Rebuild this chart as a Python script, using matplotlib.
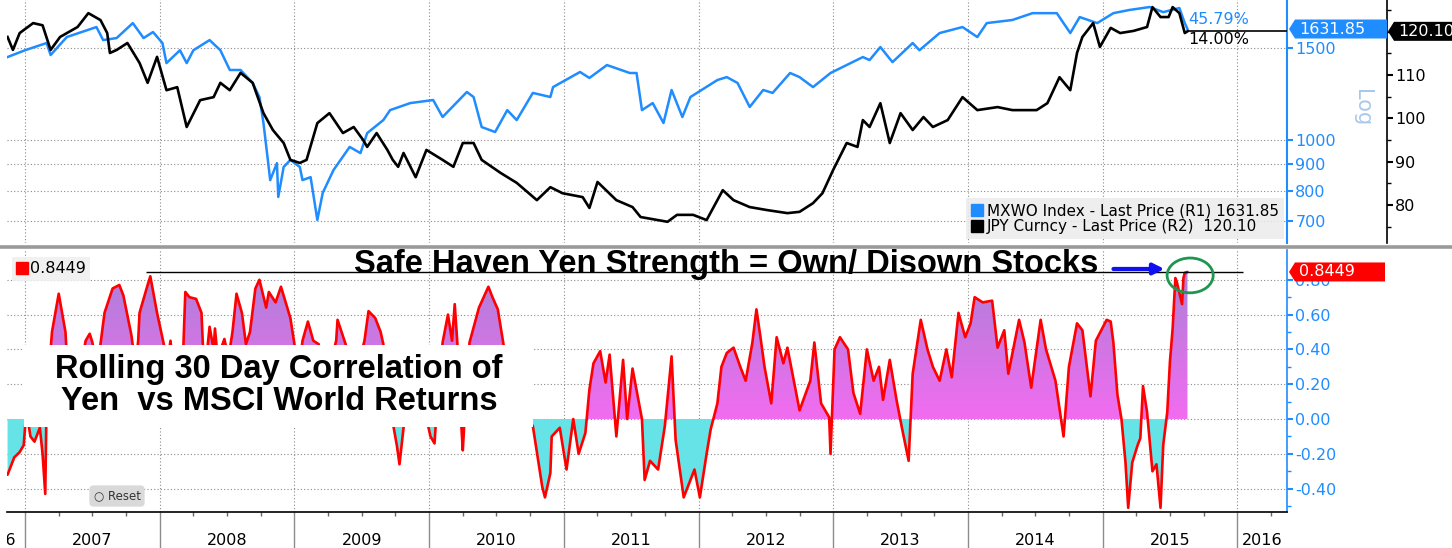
import numpy as np
import matplotlib.pyplot as plt
from matplotlib.lines import Line2D
from matplotlib.patches import Rectangle, Ellipse, Polygon
from matplotlib.path import Path
from matplotlib.colors import LinearSegmentedColormap
from matplotlib.transforms import Bbox, TransformedBbox, blended_transform_factory
from matplotlib.ticker import FixedLocator, NullLocator, NullFormatter, FixedFormatter

plt.rcParams['font.family'] = ['DejaVu Sans']

# ---- data (dates as decimal years) ----
t_mxwo = [2006.87, 2007.00, 2007.16, 2007.19, 2007.31, 2007.53, 2007.58, 2007.68, 2007.80, 2007.88,
          2007.95, 2008.02, 2008.05, 2008.15, 2008.20, 2008.25, 2008.37, 2008.45, 2008.52, 2008.60,
          2008.69, 2008.74, 2008.77, 2008.80, 2008.82, 2008.87, 2008.88, 2008.92, 2008.97, 2009.04,
          2009.06, 2009.12, 2009.17, 2009.21, 2009.29, 2009.41, 2009.49, 2009.54, 2009.66, 2009.71,
          2009.86, 2010.03, 2010.10, 2010.28, 2010.33, 2010.39, 2010.49, 2010.58, 2010.65, 2010.77,
          2010.90, 2010.92, 2011.12, 2011.19, 2011.32, 2011.49, 2011.54, 2011.58, 2011.66, 2011.74,
          2011.80, 2011.88, 2011.94, 2012.14, 2012.21, 2012.29, 2012.38, 2012.48, 2012.55, 2012.68,
          2012.75, 2012.85, 2012.98, 2013.22, 2013.27, 2013.35, 2013.44, 2013.59, 2013.64, 2013.79,
          2013.96, 2014.07, 2014.14, 2014.33, 2014.48, 2014.66, 2014.76, 2014.83, 2014.96, 2015.08,
          2015.20, 2015.35, 2015.45, 2015.57, 2015.61, 2015.63]
mxwo = [1442, 1486, 1534, 1455, 1575, 1646, 1554, 1568, 1675, 1568,
        1610, 1534, 1404, 1486, 1404, 1486, 1554, 1486, 1362, 1362,
        1286, 1209, 1078, 928, 838, 903, 778, 888, 916, 888,
        838, 849, 703, 792, 876, 970, 944, 1031, 1092, 1141,
        1177, 1193, 1107, 1236, 1209, 1059, 1036, 1141, 1092, 1231,
        1209, 1263, 1350, 1315, 1392, 1344, 1344, 1141, 1177, 1078,
        1247, 1107, 1209, 1303, 1320, 1286, 1157, 1247, 1231, 1344,
        1320, 1263, 1344, 1442, 1423, 1507, 1410, 1534, 1486, 1603,
        1646, 1575, 1675, 1698, 1750, 1750, 1603, 1720, 1675, 1750,
        1775, 1798, 1758, 1790, 1675, 1631.85]

t_jpy = [2006.87, 2006.91, 2006.96, 2007.06, 2007.13, 2007.19, 2007.26, 2007.39, 2007.47, 2007.56,
         2007.61, 2007.63, 2007.68, 2007.76, 2007.85, 2007.91, 2007.98, 2008.05, 2008.13, 2008.20,
         2008.30, 2008.40, 2008.45, 2008.52, 2008.60, 2008.69, 2008.77, 2008.84, 2008.92, 2008.97,
         2009.04, 2009.09, 2009.17, 2009.26, 2009.36, 2009.44, 2009.51, 2009.54, 2009.61, 2009.69,
         2009.73, 2009.77, 2009.81, 2009.90, 2009.98, 2010.10, 2010.18, 2010.25, 2010.33, 2010.39,
         2010.53, 2010.65, 2010.80, 2010.90, 2010.99, 2011.14, 2011.19, 2011.25, 2011.39, 2011.51,
         2011.57, 2011.77, 2011.84, 2011.96, 2012.06, 2012.18, 2012.26, 2012.38, 2012.51, 2012.66,
         2012.75, 2012.85, 2012.92, 2013.00, 2013.10, 2013.18, 2013.22, 2013.27, 2013.35, 2013.42,
         2013.50, 2013.59, 2013.67, 2013.74, 2013.85, 2013.96, 2014.07, 2014.22, 2014.33, 2014.51,
         2014.59, 2014.68, 2014.76, 2014.81, 2014.85, 2014.93, 2014.98, 2015.06, 2015.13, 2015.23,
         2015.33, 2015.37, 2015.43, 2015.49, 2015.52, 2015.57, 2015.61, 2015.63]
jpy = [118.8, 115.8, 119.7, 122.0, 121.5, 115.8, 118.8, 121.1, 124.3, 122.7,
       119.7, 115.1, 115.8, 117.4, 112.8, 108.2, 114.2, 106.5, 107.2, 98.0,
       104.2, 104.9, 108.2, 106.5, 110.5, 108.2, 101.2, 97.3, 94.3, 90.4,
       89.7, 90.4, 98.9, 101.2, 96.6, 98.0, 95.0, 93.4, 96.6, 92.7,
       90.4, 88.8, 92.0, 86.4, 92.7, 90.4, 88.8, 94.3, 94.3, 90.4,
       87.4, 85.1, 81.1, 84.1, 82.7, 81.8, 79.3, 85.3, 81.1, 79.5,
       77.2, 76.1, 77.7, 77.7, 76.5, 83.4, 81.1, 79.5, 78.8, 78.1,
       78.4, 80.4, 82.7, 88.1, 94.3, 93.4, 99.6, 98.0, 103.5, 94.3,
       101.2, 97.3, 100.3, 98.0, 99.6, 104.9, 101.9, 102.6, 101.9, 101.9,
       103.5, 109.5, 106.5, 115.1, 118.8, 122.0, 116.5, 120.9, 119.7, 120.2,
       121.1, 125.7, 123.4, 123.4, 125.7, 124.3, 119.7, 120.10]

t_corr = [2006.87, 2006.92, 2006.96, 2006.99, 2007.01, 2007.04, 2007.07, 2007.11, 2007.13, 2007.15,
          2007.16, 2007.20, 2007.25, 2007.30, 2007.33, 2007.39, 2007.45, 2007.48, 2007.50, 2007.53,
          2007.56, 2007.59, 2007.65, 2007.70, 2007.73, 2007.79, 2007.82, 2007.84, 2007.85, 2007.91,
          2007.93, 2007.98, 2008.03, 2008.05, 2008.08, 2008.11, 2008.17, 2008.19, 2008.22, 2008.27,
          2008.31, 2008.32, 2008.34, 2008.37, 2008.40, 2008.41, 2008.43, 2008.48, 2008.51, 2008.54,
          2008.57, 2008.61, 2008.64, 2008.67, 2008.71, 2008.74, 2008.79, 2008.81, 2008.86, 2008.90,
          2008.97, 2009.00, 2009.03, 2009.06, 2009.10, 2009.14, 2009.18, 2009.20, 2009.26, 2009.31,
          2009.32, 2009.35, 2009.38, 2009.43, 2009.47, 2009.52, 2009.55, 2009.60, 2009.64, 2009.66,
          2009.69, 2009.73, 2009.76, 2009.78, 2009.81, 2009.86, 2009.93, 2009.99, 2010.01, 2010.04,
          2010.06, 2010.10, 2010.14, 2010.17, 2010.19, 2010.21, 2010.24, 2010.25, 2010.27, 2010.30,
          2010.37, 2010.44, 2010.47, 2010.51, 2010.55, 2010.60, 2010.67, 2010.73, 2010.77, 2010.84,
          2010.86, 2010.90, 2010.91, 2010.97, 2011.02, 2011.07, 2011.11, 2011.16, 2011.19, 2011.22,
          2011.27, 2011.31, 2011.34, 2011.39, 2011.44, 2011.47, 2011.51, 2011.58, 2011.60, 2011.64,
          2011.70, 2011.75, 2011.80, 2011.83, 2011.89, 2011.97, 2012.01, 2012.06, 2012.09, 2012.14,
          2012.17, 2012.21, 2012.26, 2012.31, 2012.35, 2012.40, 2012.43, 2012.46, 2012.49, 2012.54,
          2012.58, 2012.63, 2012.66, 2012.71, 2012.75, 2012.83, 2012.86, 2012.91, 2012.97, 2012.98,
          2013.01, 2013.05, 2013.11, 2013.15, 2013.20, 2013.25, 2013.30, 2013.34, 2013.37, 2013.42,
          2013.47, 2013.51, 2013.56, 2013.59, 2013.65, 2013.70, 2013.74, 2013.79, 2013.84, 2013.88,
          2013.93, 2013.98, 2014.02, 2014.05, 2014.11, 2014.18, 2014.22, 2014.27, 2014.30, 2014.38,
          2014.42, 2014.47, 2014.54, 2014.58, 2014.65, 2014.71, 2014.75, 2014.81, 2014.85, 2014.91,
          2014.95, 2015.03, 2015.06, 2015.08, 2015.11, 2015.14, 2015.17, 2015.19, 2015.22, 2015.26,
          2015.28, 2015.30, 2015.33, 2015.37, 2015.40, 2015.43, 2015.45, 2015.48, 2015.50, 2015.52,
          2015.54, 2015.55, 2015.59, 2015.60, 2015.61, 2015.63]
corr = [-0.32, -0.22, -0.19, -0.15, 0.05, -0.10, -0.13, -0.05, -0.20, -0.43,
        0.10, 0.50, 0.72, 0.50, 0.10, 0.20, 0.45, 0.49, 0.44, 0.30,
        0.43, 0.61, 0.75, 0.77, 0.71, 0.48, 0.30, 0.45, 0.61, 0.77,
        0.82, 0.61, 0.43, 0.30, 0.45, 0.20, 0.30, 0.73, 0.70, 0.69,
        0.61, 0.43, 0.30, 0.53, 0.40, 0.52, 0.35, 0.46, 0.35, 0.50,
        0.72, 0.61, 0.43, 0.50, 0.75, 0.80, 0.64, 0.73, 0.67, 0.76,
        0.58, 0.43, 0.25, 0.45, 0.56, 0.45, 0.43, 0.20, 0.30, 0.45,
        0.57, 0.50, 0.43, 0.20, 0.30, 0.45, 0.62, 0.58, 0.50, 0.43,
        0.20, -0.02, -0.15, -0.26, -0.05, 0.20, 0.10, -0.03, -0.10, -0.14,
        0.10, 0.44, 0.60, 0.45, 0.66, 0.43, -0.05, -0.18, 0.10, 0.44,
        0.64, 0.76, 0.70, 0.63, 0.44, 0.20, 0.10, 0.00, -0.04, -0.39,
        -0.45, -0.31, -0.10, -0.05, -0.29, 0.00, -0.20, -0.08, 0.17, 0.32,
        0.39, 0.21, 0.37, -0.10, 0.34, 0.00, 0.29, 0.00, -0.35, -0.24,
        -0.29, -0.04, 0.36, -0.12, -0.45, -0.29, -0.45, -0.20, -0.06, 0.09,
        0.30, 0.38, 0.41, 0.30, 0.22, 0.44, 0.63, 0.47, 0.30, 0.09,
        0.47, 0.32, 0.41, 0.21, 0.05, 0.22, 0.44, 0.09, 0.01, -0.20,
        0.40, 0.47, 0.40, 0.15, 0.03, 0.40, 0.22, 0.30, 0.11, 0.34,
        0.11, -0.05, -0.24, 0.26, 0.57, 0.40, 0.30, 0.22, 0.40, 0.24,
        0.61, 0.47, 0.55, 0.70, 0.67, 0.68, 0.41, 0.51, 0.26, 0.57,
        0.44, 0.18, 0.57, 0.40, 0.22, -0.10, 0.30, 0.55, 0.51, 0.13,
        0.45, 0.57, 0.56, 0.44, 0.14, 0.00, -0.25, -0.51, -0.25, -0.15,
        -0.11, 0.19, 0.04, -0.30, -0.26, -0.51, -0.15, 0.04, 0.33, 0.52,
        0.81, 0.79, 0.66, 0.81, 0.84, 0.8449]

mxwo_chg = 45.79
jpy_chg = 14.00
years = list(range(2007, 2017))
mxwo_ticks = [700, 800, 900, 1000, 1500]
jpy_ticks = [80, 90, 100, 110]
jpy_minor = [75, 85, 95, 105, 115, 120, 125]
corr_ticks = [-0.4, -0.2, 0.0, 0.2, 0.4, 0.6, 0.8]
corr_minor = [-0.5, -0.3, -0.1, 0.1, 0.3, 0.5, 0.7]

BLUE = '#1f8cff'
RED = '#ff0000'
CYAN = '#66e3e6'
GRID = dict(ls=(0, (1, 2)), color='#8a8a8a', lw=0.8)

W, H = 1452, 548
fig = plt.figure(figsize=(W / 100, H / 100), dpi=100)


def fx(x):
    return x / W


def fy(y):
    return 1 - y / H


xlim = (2006.866, 2016.369)
quarters = [y + q / 4 for y in range(2006, 2017) for q in (1, 2, 3)
            if xlim[0] < y + q / 4 < xlim[1]]

# ---------------- top panel ----------------
ax1 = fig.add_axes([fx(7), fy(243), 1280 / W, 245 / H])
ax2 = ax1.twinx()

ax1.plot(t_mxwo, mxwo, color=BLUE, lw=1.8, solid_joinstyle='round')
ax1.set_yscale('log')
ax1.set_xlim(xlim)
ax1.set_ylim(635, 1871)
ax1.yaxis.tick_right()
ax1.yaxis.set_major_locator(FixedLocator(mxwo_ticks))
ax1.yaxis.set_major_formatter(FixedFormatter([str(v) for v in mxwo_ticks]))
ax1.yaxis.set_minor_locator(NullLocator())
ax1.yaxis.set_minor_formatter(NullFormatter())
ax1.tick_params(axis='y', colors=BLUE, labelsize=11.5, length=4, width=1.5, pad=2)
ax1.xaxis.set_major_locator(FixedLocator(years))
ax1.tick_params(axis='x', length=0, labelbottom=False)
ax1.grid(True, which='major', **GRID)
ax1.set_axisbelow(True)
for s in ('left', 'top', 'bottom'):
    ax1.spines[s].set_visible(False)
ax1.spines['right'].set_color(BLUE)
ax1.spines['right'].set_linewidth(1.5)

ax2.plot(t_jpy, jpy, color='black', lw=1.9, solid_joinstyle='round')
ax2.set_ylim(71.2, 127.8)
ax2.hlines(jpy[-1], t_jpy[-1], xlim[1], color='black', lw=1.2)
ax2.yaxis.set_major_locator(FixedLocator(jpy_ticks))
ax2.yaxis.set_minor_locator(FixedLocator(jpy_minor))
ax2.tick_params(axis='y', which='major', colors='black', labelsize=11.5, length=4, width=1.5, pad=2)
ax2.tick_params(axis='y', which='minor', length=3, width=1)
for s in ('left', 'top', 'bottom'):
    ax2.spines[s].set_visible(False)
ax2.spines['right'].set_position(('axes', 1 + 100 / 1280))
ax2.spines['right'].set_linewidth(1.2)

handles = [Line2D([], [], marker='s', ls='none', color=BLUE, markersize=8),
           Line2D([], [], marker='s', ls='none', color='black', markersize=8)]
leg = ax2.legend(handles, [f'MXWO Index - Last Price (R1) {mxwo[-1]:.2f}',
                           f'JPY Curncy - Last Price (R2)  {jpy[-1]:.2f}'],
                 loc='lower right', bbox_to_anchor=(0.998, 0.015), fontsize=11,
                 frameon=True, fancybox=False, facecolor='#ececec', edgecolor='none',
                 framealpha=0.85, handlelength=0.7, handletextpad=0.3, labelspacing=0.05,
                 borderpad=0.35, borderaxespad=0)

fig.text(fx(1188), fy(20), f'{mxwo_chg:.2f}%', color=BLUE, fontsize=11.5, va='center', ha='left')
fig.text(fx(1188), fy(40), f'{jpy_chg:.2f}%', color='black', fontsize=11.5, va='center', ha='left')
fig.text(fx(1362), fy(108), 'Log', color='#a9c8ee', fontsize=15, rotation=270, ha='center', va='center')

# ---------------- bottom panel ----------------
ax_b = fig.add_axes([fx(7), fy(512), 1280 / W, 262 / H])
tc = np.array(t_corr)
cv = np.array(corr)
pos = ax_b.fill_between(tc, 0, cv, where=cv >= 0, interpolate=True,
                        facecolor='none', edgecolor='none')
ax_b.fill_between(tc, 0, cv, where=cv <= 0, interpolate=True,
                  facecolor=CYAN, edgecolor='none', zorder=1)
cmap = LinearSegmentedColormap.from_list('mag', ['#f26cf0', '#ad80d8'])
im = ax_b.imshow(np.linspace(0, 1, 256).reshape(-1, 1), cmap=cmap, origin='lower',
                 extent=[xlim[0], xlim[1], 0, cv.max()], aspect='auto', zorder=1)
im.set_clip_path(Path.make_compound_path(*pos.get_paths()), ax_b.transData)
ax_b.plot(tc, cv, color=RED, lw=1.9, zorder=3, solid_joinstyle='round', solid_capstyle='round')
ax_b.set_xlim(xlim)
ax_b.set_ylim(-0.534, 0.971)
ax_b.hlines(corr[-1], 2007.90, 2016.04, color='black', lw=1, zorder=4)

ax_b.yaxis.tick_right()
ax_b.yaxis.set_major_locator(FixedLocator(corr_ticks))
ax_b.yaxis.set_major_formatter(FixedFormatter([f'{v:.2f}' for v in corr_ticks]))
ax_b.yaxis.set_minor_locator(FixedLocator(corr_minor))
ax_b.tick_params(axis='y', which='major', colors=BLUE, labelsize=11.5, length=4, width=1.5, pad=2)
ax_b.tick_params(axis='y', which='minor', colors=BLUE, length=3, width=1)
ax_b.xaxis.set_major_locator(FixedLocator(years))
ax_b.xaxis.set_major_formatter(NullFormatter())
ax_b.xaxis.set_minor_locator(FixedLocator(quarters))
ax_b.tick_params(axis='x', which='major', length=27, color='#8c8c8c', width=1)
ax_b.tick_params(axis='x', which='minor', length=3, color='#666666', width=1)
ax_b.grid(True, which='major', **GRID)
ax_b.set_axisbelow(True)
for s in ('left', 'top'):
    ax_b.spines[s].set_visible(False)
ax_b.spines['right'].set_color(BLUE)
ax_b.spines['right'].set_linewidth(1.2)
ax_b.spines['bottom'].set_linewidth(1.2)

blend = blended_transform_factory(ax_b.transData, ax_b.transAxes)
for y in years:
    a, b = max(y, xlim[0]), min(y + 1, xlim[1])
    ax_b.text((a + b) / 2, -0.107, str(y), transform=blend, ha='center', va='center', fontsize=11.5)
t06 = ax_b.text(2006.935, -0.107, '2006', transform=blend, ha='right', va='center', fontsize=11.5)
t06.set_clip_box(TransformedBbox(Bbox([[0, -0.3], [1, 0]]), ax_b.transAxes))
t06.set_clip_on(True)

ax_b.add_patch(Rectangle((17 / 1280, 0.324), 509 / 1280, 0.313, transform=ax_b.transAxes,
                         facecolor='white', edgecolor='none', zorder=5))
ax_b.text(272 / 1280, 0.483, 'Rolling 30 Day Correlation of\nYen  vs MSCI World Returns',
          transform=ax_b.transAxes, ha='center', va='center', fontsize=23.5, fontweight='bold',
          family='Liberation Sans', linespacing=1.02, zorder=6)
ax_b.text(110 / 1280, 0.061, '\u25cb Reset', transform=ax_b.transAxes, ha='center', va='center',
          fontsize=8.5, color='#333333', zorder=6,
          bbox=dict(boxstyle='round,pad=0.35', facecolor='#d9d9d9', edgecolor='none'))

leg2 = ax_b.legend([Line2D([], [], marker='s', ls='none', color=RED, markersize=8)],
                   [f'{corr[-1]:.4f}'], loc='upper left', bbox_to_anchor=(0.004, 0.975),
                   fontsize=11.5, frameon=True, fancybox=False, facecolor='#f0f0f0',
                   edgecolor='none', framealpha=0.9, handlelength=0.6, handletextpad=0.2,
                   borderpad=0.3, borderaxespad=0)
leg2.set_zorder(6)

ax_b.annotate('', xy=(2015.48, 0.862), xytext=(2015.06, 0.862),
              arrowprops=dict(arrowstyle='-|>', color='#1010f0', lw=3, mutation_scale=16), zorder=6)
ax_b.add_patch(Ellipse((2015.65, 0.825), 0.342, 0.20, fill=False, edgecolor='#1e9650', lw=2, zorder=6))

fig.text(fx(726), fy(264), 'Safe Haven Yen Strength = Own/ Disown Stocks', ha='center', va='center',
         fontsize=23.5, fontweight='bold', family='Liberation Sans', zorder=7)

# separator between panels
fig.add_artist(Line2D([0, 1], [fy(247)] * 2, transform=fig.transFigure, color='#9a9a9a', lw=2.6))


# value tags on the right axes
def tag(ax, value, text, fc, x0, x1, h=19, tip=6):
    yd = ax.transData.transform((ax.get_xlim()[1], value))[1]
    pts = [(x0 - tip, yd), (x0, yd + h / 2), (x1, yd + h / 2), (x1, yd - h / 2), (x0, yd - h / 2)]
    fig.add_artist(Polygon([(px / W, py / H) for px, py in pts], closed=True,
                           transform=fig.transFigure, facecolor=fc, edgecolor='none', zorder=10))
    fig.text((x0 + 4) / W, yd / H, text, color='white', fontsize=11.5, ha='left', va='center', zorder=11)


tag(ax1, mxwo[-1], f'{mxwo[-1]:.2f}', BLUE, 1295, 1387)
tag(ax2, jpy[-1], f'{jpy[-1]:.2f}', 'black', 1394, 1460)
tag(ax_b, corr[-1], f'{corr[-1]:.4f}', RED, 1295, 1385)

fig.savefig('out.png', dpi=100)
